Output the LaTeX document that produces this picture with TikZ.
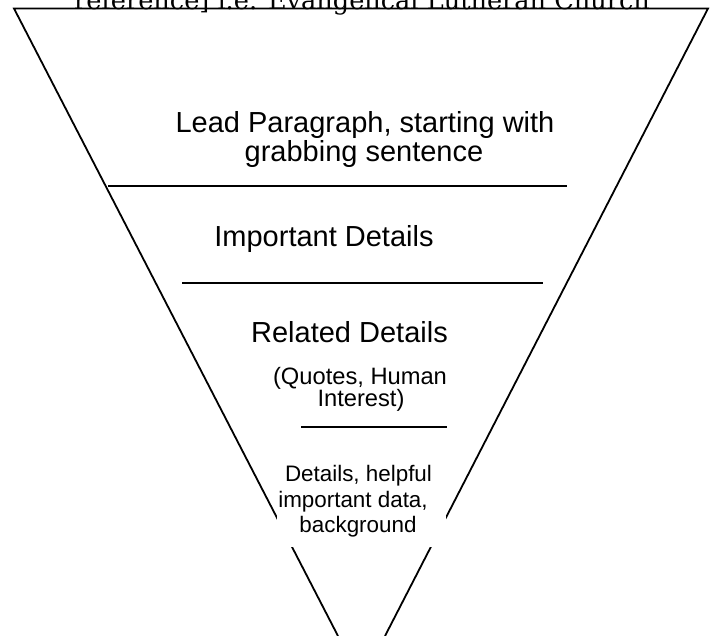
\documentclass[tikz,border=0pt]{standalone}
\usepackage{fontspec}
\setmainfont{Liberation Sans}
\newfontfamily\topserif{DejaVu Serif}
\begin{document}
\begin{tikzpicture}[x=1pt,y=-1pt,
  edge/.style={line width=1.8pt,black},
  rule/.style={line width=1.6pt,black},
  big/.style={font=\fontsize{29}{29}\selectfont,inner sep=0pt,anchor=base},
  mid/.style={font=\fontsize{23.7}{23.7}\selectfont,inner sep=0pt,anchor=base},
  small/.style={font=\fontsize{22.4}{22.4}\selectfont,inner sep=0pt,anchor=base}]
\useasboundingbox (0,0) rectangle (716,636);
\clip (0,0) rectangle (716,636);
% top cut-off text
\node[font=\topserif\fontsize{25.6}{25.6}\selectfont,inner sep=0pt,anchor=base] (toptext) at (362,10) {reference] i.e. Evangelical Lutheran Church};
% funnel
\coordinate (tl) at (14,8.5);
\coordinate (tr) at (708,8.5);
\coordinate (bl) at (338,636);
\coordinate (br) at (385,636);
\draw[edge] (bl) -- (tl) -- (tr) -- (br);
% white box behind last text
\node[fill=white,inner sep=0pt,minimum width=169pt,minimum height=87pt,anchor=north west] (mask) at (277,460) {};
% dividers
\coordinate (d1a) at (108,186); \coordinate (d1b) at (567,186);
\coordinate (d2a) at (182,283); \coordinate (d2b) at (543,283);
\coordinate (d3a) at (301,427); \coordinate (d3b) at (447,427);
\draw[rule] (d1a) -- (d1b);
\draw[rule] (d2a) -- (d2b);
\draw[rule] (d3a) -- (d3b);
% texts
\node[big] (lead1) at (365,133) {Lead Paragraph, starting with};
\node[big] (lead2) at (364,162) {grabbing sentence};
\node[big] (imp) at (324,247) {Important Details};
\node[big] (rel) at (349.5,343) {Related Details};
\node[mid] (q1) at (360,385) {(Quotes, Human};
\node[mid] (q2) at (361,407) {Interest)};
\node[small] (b1) at (358.5,482) {Details, helpful};
\node[small] (b2) at (353,508) {important data,};
\node[small] (b3) at (358,533) {background};
\end{tikzpicture}
\end{document}
